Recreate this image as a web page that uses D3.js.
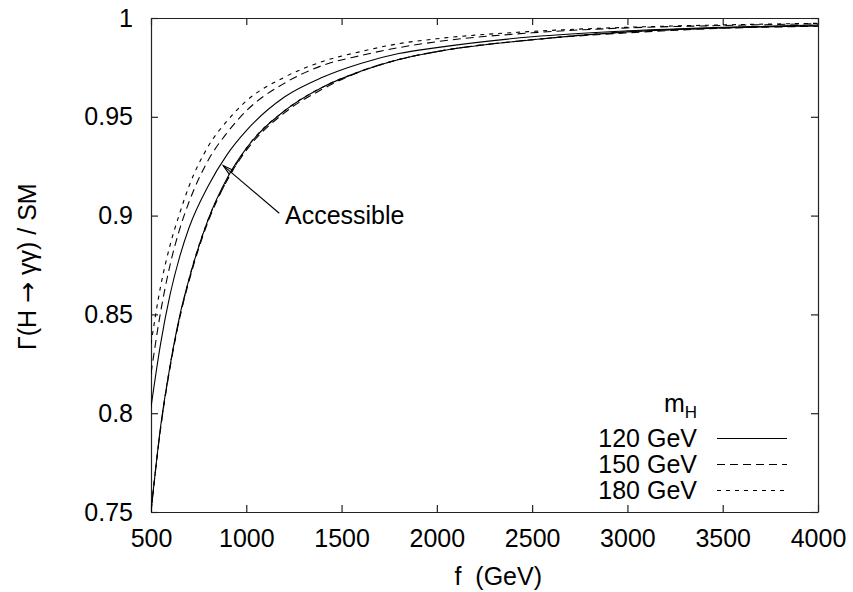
<!DOCTYPE html>
<html>
<head>
<meta charset="utf-8">
<script src="https://cdn.jsdelivr.net/npm/d3@7"></script>
<style>
  body { margin: 0; background: #fff; }
  svg text { font-family: "Liberation Sans", Arial, Helvetica, sans-serif; fill: #000; }
</style>
</head>
<body>
<div id="chart"></div>
<script>
const fValues = [500, 550, 600, 650, 700, 800, 900, 1000, 1200, 1400, 1600, 1800, 2000, 2500, 3000, 3500, 4000]

// upper edges of the accessible band
const upper120 = [0.803, 0.835, 0.860, 0.879, 0.894, 0.915, 0.931, 0.943, 0.960, 0.970, 0.977, 0.982, 0.985, 0.9905, 0.9935, 0.9953, 0.9965]
const upper150 = [0.820, 0.851, 0.875, 0.893, 0.907, 0.928, 0.942, 0.953, 0.967, 0.976, 0.981, 0.985, 0.988, 0.9925, 0.995, 0.9962, 0.9971]
const upper180 = [0.835, 0.864, 0.885, 0.901, 0.915, 0.935, 0.948, 0.958, 0.970, 0.978, 0.983, 0.987, 0.9895, 0.9932, 0.9953, 0.9965, 0.9973]

// lower edges (nearly on top of each other)
const lower120 = [0.750, 0.793, 0.824, 0.849, 0.868, 0.898, 0.919, 0.934, 0.953, 0.965, 0.973, 0.979, 0.983, 0.989, 0.993, 0.995, 0.996]
const lower150 = [0.750, 0.792, 0.823, 0.848, 0.867, 0.897, 0.918, 0.933, 0.952, 0.964, 0.973, 0.979, 0.983, 0.989, 0.9925, 0.9948, 0.9958]
const lower180 = [0.750, 0.792, 0.824, 0.848, 0.868, 0.898, 0.918, 0.934, 0.953, 0.965, 0.973, 0.979, 0.983, 0.989, 0.993, 0.995, 0.9962]

const xTicks = [500, 1000, 1500, 2000, 2500, 3000, 3500, 4000]
const yTicks = [0.75, 0.8, 0.85, 0.9, 0.95, 1]
const yTickLabels = ['0.75', '0.8', '0.85', '0.9', '0.95', '1']

const legendTitle = 'm'
const legendSub = 'H'
const legendLabels = ['120 GeV', '150 GeV', '180 GeV']

// arrow: [f, ratio] for tail and tip, and label anchor
const arrowTail = [1173, 0.9012]
const arrowTip = [879, 0.9253]
const arrowLabel = { f: 1203, v: 0.896, text: 'Accessible' }

const fullWidth = 853,
  fullHeight = 592,
  margin = { top: 18, right: 35, bottom: 80, left: 151 },
  width = fullWidth - margin.left - margin.right,
  height = fullHeight - margin.top - margin.bottom

const svg = d3.select('#chart')
  .append('svg')
    .attr('width', fullWidth)
    .attr('height', fullHeight)

const g = svg.append('g')
  .attr('transform', `translate(${margin.left}, ${margin.top})`)

const xScale = d3.scaleLinear().domain([500, 4000]).range([0, width])
const yScale = d3.scaleLinear().domain([0.75, 1]).range([height, 0])

const fontSize = 25
const tick = 7

// axes with inward ticks, mirrored on top / right
const styleAxis = sel => {
  sel.selectAll('path.domain').attr('stroke', '#222').attr('stroke-width', 1.2)
  sel.selectAll('.tick line').attr('stroke', '#222').attr('stroke-width', 1.2)
  sel.selectAll('.tick text').style('font-size', fontSize + 'px').attr('fill', '#000')
  sel.attr('font-family', null).attr('font-size', null)
}

g.append('g')
  .attr('transform', `translate(0, ${height})`)
  .call(d3.axisBottom(xScale).tickValues(xTicks).tickFormat(d3.format('d'))
    .tickSizeInner(-tick).tickSizeOuter(0).tickPadding(17))
  .call(styleAxis)

g.append('g')
  .call(d3.axisTop(xScale).tickValues(xTicks).tickFormat('')
    .tickSizeInner(-tick).tickSizeOuter(0))
  .call(styleAxis)

g.append('g')
  .call(d3.axisLeft(yScale).tickValues(yTicks).tickFormat((d, i) => yTickLabels[i])
    .tickSizeInner(-tick).tickSizeOuter(0).tickPadding(18))
  .call(styleAxis)

g.append('g')
  .attr('transform', `translate(${width}, 0)`)
  .call(d3.axisRight(yScale).tickValues(yTicks).tickFormat('')
    .tickSizeInner(-tick).tickSizeOuter(0))
  .call(styleAxis)

// curves
const line = d3.line()
  .x(d => xScale(d[0]))
  .y(d => yScale(d[1]))
  .curve(d3.curveMonotoneX)

const dashes = [null, '8,5', '4,5']
const series = [
  { vals: lower120, dash: dashes[0] },
  { vals: lower150, dash: dashes[1] },
  { vals: lower180, dash: dashes[2] },
  { vals: upper120, dash: dashes[0] },
  { vals: upper150, dash: dashes[1] },
  { vals: upper180, dash: dashes[2] }
]

g.append('defs').append('clipPath').attr('id', 'clip')
  .append('rect').attr('width', width).attr('height', height)

g.append('g').attr('clip-path', 'url(#clip)')
  .selectAll('.curve')
  .data(series)
  .enter()
  .append('path')
    .attr('class', 'curve')
    .attr('d', d => line(fValues.map((f, i) => [f, d.vals[i]])))
    .style('fill', 'none')
    .style('stroke', '#000')
    .style('stroke-width', 1.1)
    .style('stroke-dasharray', d => d.dash)

// arrow + label
const x1 = xScale(arrowTail[0]), y1 = yScale(arrowTail[1])
const x2 = xScale(arrowTip[0]), y2 = yScale(arrowTip[1])
const ang = Math.atan2(y1 - y2, x1 - x2)
const headLen = 11, headAng = Math.PI / 12
g.append('line')
  .attr('x1', x1).attr('y1', y1).attr('x2', x2).attr('y2', y2)
  .attr('stroke', '#000').attr('stroke-width', 1.1)
g.append('path')
  .attr('d', `M${x2 + headLen * Math.cos(ang - headAng)},${y2 + headLen * Math.sin(ang - headAng)}` +
    `L${x2},${y2}L${x2 + headLen * Math.cos(ang + headAng)},${y2 + headLen * Math.sin(ang + headAng)}`)
  .attr('fill', 'none').attr('stroke', '#000').attr('stroke-width', 1.1)

g.append('text')
  .attr('x', xScale(arrowLabel.f))
  .attr('y', yScale(arrowLabel.v))
  .style('font-size', fontSize + 'px')
  .text(arrowLabel.text)

// legend
const legX = 697 - margin.left
const legTitle = g.append('text')
  .attr('x', legX)
  .attr('y', 412 - margin.top)
  .attr('text-anchor', 'end')
  .style('font-size', fontSize + 'px')
legTitle.append('tspan').text(legendTitle)
legTitle.append('tspan').attr('dy', 6).style('font-size', '17px').text(legendSub)

const legend = g.selectAll('.leg')
  .data(legendLabels)
  .enter()
  .append('g')
    .attr('class', 'leg')
    .attr('transform', (d, i) => `translate(0, ${438.5 - margin.top + i * 26})`)

legend.append('text')
  .attr('x', legX)
  .attr('y', 8.5)
  .attr('text-anchor', 'end')
  .style('font-size', fontSize + 'px')
  .text(d => d)

legend.append('line')
  .attr('x1', 717 - margin.left)
  .attr('x2', 787 - margin.left)
  .attr('stroke', '#000')
  .attr('stroke-width', 1.1)
  .style('stroke-dasharray', (d, i) => dashes[i])

// axis titles
svg.append('text')
  .attr('x', 542)
  .attr('y', 585)
  .attr('text-anchor', 'end')
  .style('font-size', fontSize + 'px')
  .style('white-space', 'pre')
  .text('f  (GeV)')

const yTitle = svg.append('text')
  .attr('transform', 'translate(36, 350) rotate(-90)')
  .attr('text-anchor', 'start')
  .style('font-size', fontSize + 'px')
  .style('white-space', 'pre')
yTitle.append('tspan').text('Γ(H ')
yTitle.append('tspan').style('font-family', '"DejaVu Sans"').text('→')
yTitle.append('tspan').text(' γγ) / SM')
</script>
</body>
</html>
